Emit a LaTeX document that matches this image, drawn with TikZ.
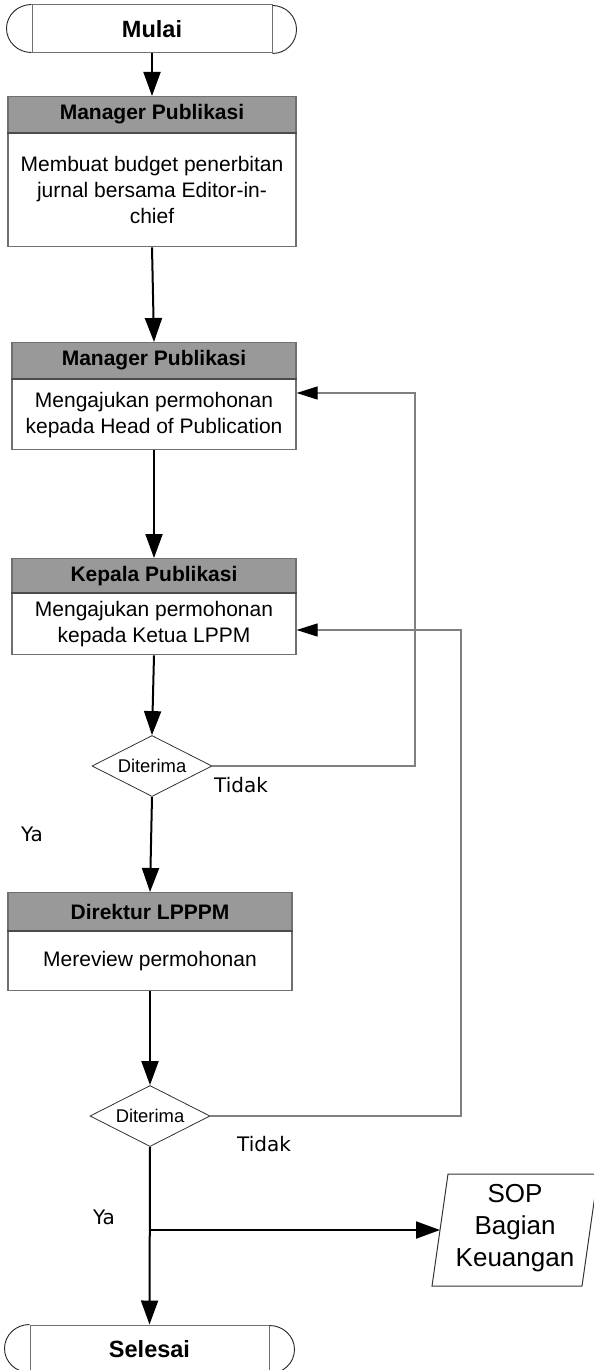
\documentclass[tikz,border=0pt]{standalone}
\usepackage{fontspec}
\setmainfont{Liberation Sans}
\newfontfamily\dvfont{DejaVu Sans}
\usetikzlibrary{shapes.geometric,arrows.meta}
\definecolor{hdrfill}{RGB}{153,153,153}
\definecolor{bord}{RGB}{112,112,112}
\definecolor{fbline}{RGB}{128,128,128}
\begin{document}
\begin{tikzpicture}[x=1pt,y=1pt,
  hdr/.style={draw=bord, line width=1.2pt, fill=hdrfill, font=\fontsize{21}{25}\selectfont\bfseries, inner sep=0pt, anchor=north},
  body/.style={draw=bord, line width=1.2pt, fill=white, font=\fontsize{21}{26}\selectfont, align=center, inner sep=0pt, anchor=north},
  sepline/.style={line width=1.6pt, draw=black!70},
  term/.style={draw=bord, line width=1pt, minimum width=240pt, minimum height=48pt, inner sep=0pt, font=\fontsize{23.5}{28}\selectfont\bfseries},
  termarc/.style={line width=0.9pt, draw=black!85},
  dec/.style={diamond, draw=black!80, line width=0.8pt, aspect=2, minimum width=120pt, minimum height=61pt, inner sep=0pt, font=\fontsize{18.4}{22}\selectfont},
  lbl/.style={font=\dvfont\fontsize{20}{24}\selectfont, inner sep=0pt},
  mainarr/.style={draw=black, line width=2pt, -{Triangle[length=24pt,width=17pt]}},
  fbarr/.style={draw=fbline, line width=1.2pt, -{Triangle[length=21pt,width=13pt,color=black]}}
]
\useasboundingbox (0,0) rectangle (594,-1370);
\fill[white] (0,0) rectangle (594,-1370);

% start terminator
\node[term] (m0) at (152,-29) {Mulai};
\draw[termarc] (m0.north west) arc[start angle=90,end angle=270,x radius=25,y radius=24];
\draw[termarc] (m0.south east) arc[start angle=-90,end angle=90,x radius=24,y radius=24];

% box 1
\node[hdr, minimum width=288pt, minimum height=36pt] (h1) at (152,-96) {Manager Publikasi};
\node[body, minimum width=288pt, minimum height=113pt] (b1) at (h1.south) {Membuat budget penerbitan\\jurnal bersama Editor-in-\\chief};
\draw[sepline] (h1.south west) -- (h1.south east);

% box 2
\node[hdr, minimum width=284pt, minimum height=36pt] (h2) at (154,-342) {Manager Publikasi};
\node[body, minimum width=284pt, minimum height=70pt] (b2) at (h2.south) {Mengajukan permohonan\\kepada Head of Publication};
\draw[sepline] (h2.south west) -- (h2.south east);

% box 3
\node[hdr, minimum width=284pt, minimum height=34pt] (h3) at (154,-558) {Kepala Publikasi};
\node[body, minimum width=284pt, minimum height=61pt] (b3) at (h3.south) {Mengajukan permohonan\\kepada Ketua LPPM};
\draw[sepline] (h3.south west) -- (h3.south east);

% decision 1
\node[dec] (d1) at (152,-766) {Diterima};

% box 4
\node[hdr, minimum width=284pt, minimum height=38pt] (h4) at (150,-892) {Direktur LPPPM};
\node[body, minimum width=284pt, minimum height=59pt] (b4) at (h4.south) {Mereview permohonan};
\draw[sepline] (h4.south west) -- (h4.south east);

% decision 2
\node[dec] (d2) at (150,-1116) {Diterima};

% SOP document
\draw[draw=black!80, line width=1pt] (448,-1174) -- (598,-1174) -- (582,-1286) -- (432,-1286) -- cycle;
\node[font=\fontsize{26}{32}\selectfont, align=center, inner sep=0pt] (sop) at (515,-1228) {SOP\\Bagian\\Keuangan};
\coordinate (sopin) at (440,-1230);

% end terminator
\node[term, minimum width=239pt] (e0) at (149.5,-1349) {Selesai};
\draw[termarc] (e0.north west) arc[start angle=90,end angle=270,x radius=25,y radius=24];
\draw[termarc] (e0.south east) arc[start angle=-90,end angle=90,x radius=25,y radius=24];

% labels
\node[lbl] (t1) at (241,-785) {Tidak};
\node[lbl] (t2) at (264,-1144) {Tidak};
\node[lbl] (y1) at (32,-834) {Ya};
\node[lbl] (y2) at (104,-1217) {Ya};

% main connectors
\draw[mainarr] (m0.south) -- (h1.north);
\draw[mainarr] (b1.south) -- (h2.north);
\draw[mainarr] (b2.south) -- (h3.north);
\draw[mainarr] (b3.south) -- (d1.north);
\draw[mainarr] (d1.south) -- (h4.north);
\draw[mainarr] (b4.south) -- (d2.north);
\draw[mainarr] (d2.south) -- (e0.north);
\coordinate (br) at (150,-1230);
\draw[mainarr] (br) -- (sopin);

% feedback connectors
\coordinate (f1) at (415,-393);
\draw[fbarr] (d1.east) -| (f1) -- (f1 -| b2.east);
\coordinate (f2) at (461,-630);
\draw[fbarr] (d2.east) -| (f2) -- (f2 -| b3.east);
\end{tikzpicture}
\end{document}
